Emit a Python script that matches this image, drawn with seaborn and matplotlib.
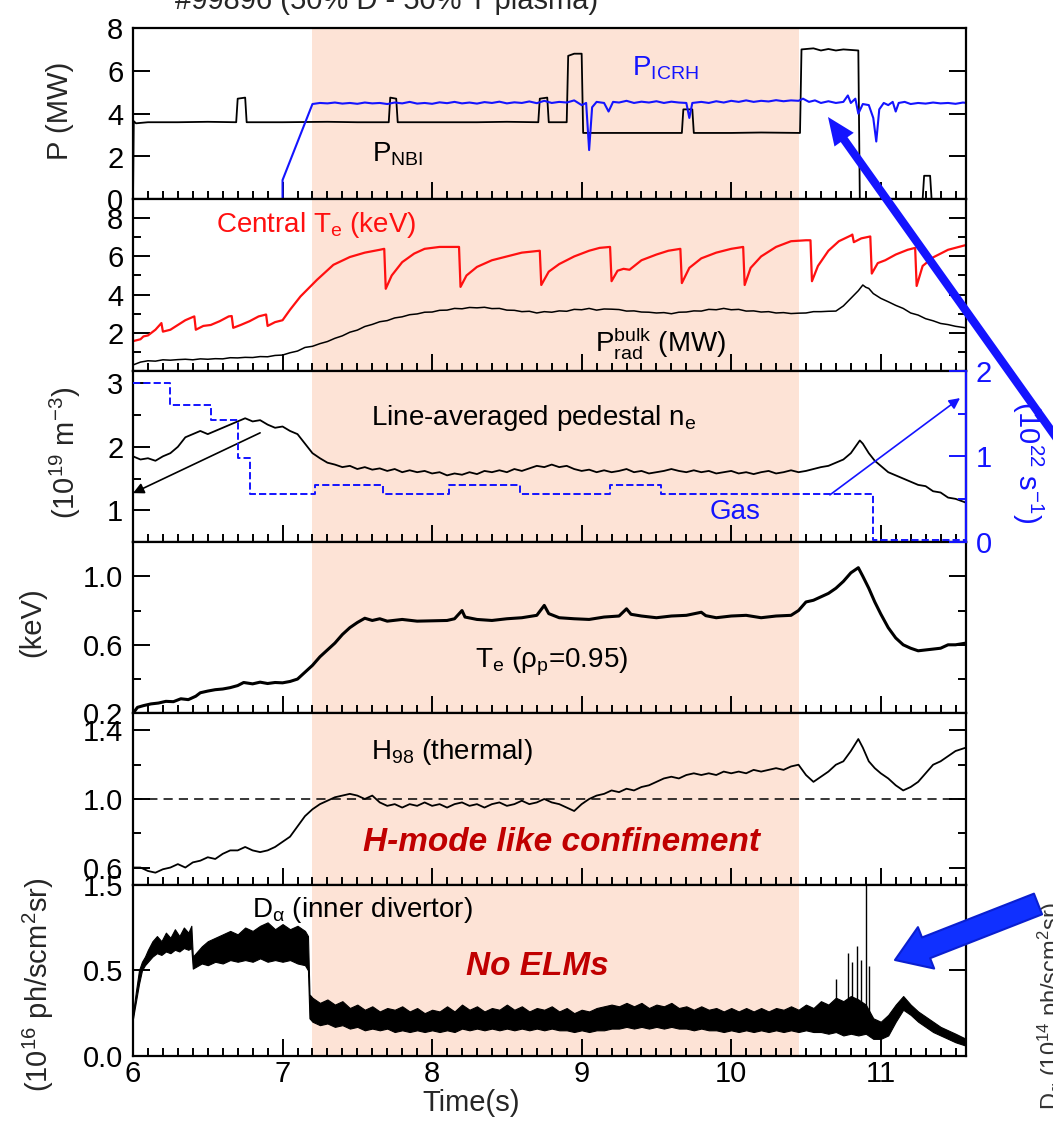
import numpy as np
import matplotlib
matplotlib.use("Agg")
import matplotlib.pyplot as plt
import seaborn as sns
from matplotlib.patches import FancyArrowPatch, ArrowStyle
from matplotlib.ticker import MultipleLocator, FixedLocator, FormatStrFormatter

# ---------------- data (time in s) ----------------
# Panel 1: heating powers (MW)
nbi_t = [6.0, 6.005, 6.02, 6.1, 6.3, 6.5, 6.69, 6.70, 6.75, 6.76, 7.0, 7.3, 7.5, 7.71, 7.72, 7.76,
         7.77, 8.0, 8.3, 8.5, 8.71, 8.72, 8.77, 8.78, 8.90, 8.91, 8.95, 9.00, 9.01, 9.3, 9.5, 9.67,
         9.68, 9.74, 9.75, 10.0, 10.2, 10.46, 10.47, 10.55, 10.6, 10.65, 10.7, 10.75, 10.85, 10.86,
         11.28, 11.29, 11.33, 11.34, 11.57]
nbi_p = [0.0, 3.65, 3.55, 3.6, 3.6, 3.62, 3.6, 4.7, 4.75, 3.6, 3.6, 3.62, 3.6, 3.6, 4.75, 4.7,
         3.6, 3.6, 3.6, 3.62, 3.6, 4.7, 4.75, 3.6, 3.6, 6.7, 6.8, 6.8, 3.1, 3.1, 3.1, 3.1,
         4.2, 4.2, 3.1, 3.1, 3.12, 3.1, 7.0, 7.05, 6.95, 7.02, 6.95, 7.0, 6.95, 0.0,
         0.0, 1.1, 1.1, 0.0, 0.0]

icrh_t = [7.00, 7.00, 7.20, 7.25, 7.30, 7.35, 7.40, 7.45, 7.50, 7.55, 7.60, 7.65, 7.70, 7.75, 7.80,
          7.85, 7.90, 7.95, 8.00, 8.05, 8.10, 8.15, 8.20, 8.25, 8.30, 8.35, 8.40, 8.45, 8.50, 8.55,
          8.60, 8.65, 8.70, 8.75, 8.80, 8.85, 8.90, 8.95, 9.00, 9.03, 9.05, 9.07, 9.10, 9.15, 9.18,
          9.21, 9.25, 9.30, 9.35, 9.40, 9.45, 9.50, 9.55, 9.60, 9.65, 9.70, 9.72, 9.74, 9.80, 9.85,
          9.90, 9.95, 10.00, 10.05, 10.10, 10.15, 10.20, 10.25, 10.30, 10.35, 10.40, 10.45, 10.48,
          10.52, 10.56, 10.60, 10.65, 10.70, 10.75, 10.78, 10.80, 10.83, 10.85, 10.88, 10.92, 10.95,
          10.97, 10.99, 11.02, 11.05, 11.08, 11.10, 11.12, 11.16, 11.20, 11.25, 11.30, 11.35, 11.40,
          11.45, 11.50, 11.55, 11.57]
icrh_p = [0.0, 0.9, 4.45, 4.5, 4.48, 4.52, 4.47, 4.5, 4.46, 4.52, 4.48, 4.5, 4.45, 4.52, 4.48,
          4.55, 4.47, 4.5, 4.46, 4.53, 4.49, 4.55, 4.48, 4.52, 4.47, 4.54, 4.5, 4.56, 4.48, 4.53,
          4.5, 4.57, 4.49, 4.6, 4.5, 4.55, 4.52, 4.62, 4.4, 4.5, 2.3, 4.3, 4.55, 4.5, 4.1,
          4.55, 4.52, 4.6, 4.5, 4.56, 4.52, 4.58, 4.5, 4.56, 4.52, 4.5, 3.8, 4.5, 4.55, 4.5,
          4.58, 4.52, 4.6, 4.55, 4.62, 4.55, 4.6, 4.57, 4.63, 4.58, 4.62, 4.6, 4.7,
          4.55, 4.62, 4.5, 4.58, 4.5, 4.55, 4.85, 4.5, 4.7, 4.0, 4.45, 4.4, 3.8,
          2.7, 4.2, 4.5, 4.4, 4.55, 4.1, 4.5, 4.55, 4.45, 4.5, 4.47, 4.52, 4.48,
          4.5, 4.46, 4.52, 4.5]

# Panel 2: central Te (keV) and bulk radiated power (MW)
te0_t = [6.00, 6.05, 6.07, 6.10, 6.15, 6.19, 6.20, 6.25, 6.30, 6.35, 6.40, 6.41, 6.42, 6.47, 6.52,
         6.58, 6.64, 6.66, 6.67, 6.72, 6.78, 6.84, 6.89, 6.90, 6.95, 7.00, 7.05, 7.12, 7.23, 7.34,
         7.45, 7.55, 7.65, 7.68, 7.69, 7.73, 7.80, 7.88, 7.95, 8.05, 8.18, 8.19, 8.23, 8.30, 8.40,
         8.50, 8.60, 8.72, 8.73, 8.78, 8.85, 8.95, 9.05, 9.12, 9.19, 9.20, 9.24, 9.28, 9.32, 9.40,
         9.50, 9.58, 9.66, 9.67, 9.72, 9.80, 9.90, 10.00, 10.08, 10.09, 10.13, 10.20, 10.30, 10.40,
         10.50, 10.53, 10.54, 10.58, 10.65, 10.72, 10.80, 10.81, 10.82, 10.87, 10.93, 10.94, 10.98,
         11.03, 11.10, 11.18, 11.23, 11.24, 11.28, 11.35, 11.45, 11.57]
te0_v = [1.55, 1.65, 1.8, 1.85, 2.15, 2.5, 2.05, 2.15, 2.4, 2.65, 2.82, 2.85, 2.15, 2.35, 2.4,
         2.6, 2.85, 2.87, 2.25, 2.4, 2.6, 2.85, 2.95, 2.35, 2.55, 2.65, 3.2, 3.9, 4.77, 5.56,
         5.97, 6.2, 6.35, 6.4, 4.3, 5.0, 5.7, 6.15, 6.4, 6.5, 6.5, 4.4, 5.0, 5.45, 5.8,
         6.0, 6.2, 6.3, 4.5, 5.2, 5.6, 6.0, 6.3, 6.45, 6.5, 4.7, 5.25, 5.35, 5.3, 5.8,
         6.1, 6.3, 6.4, 4.6, 5.4, 5.9, 6.2, 6.4, 6.5, 4.5, 5.4, 6.0, 6.5, 6.8,
         6.85, 6.85, 4.7, 5.5, 6.3, 6.8, 7.1, 7.15, 6.75, 6.95, 7.05, 5.1, 5.65,
         5.8, 6.1, 6.35, 6.45, 4.45, 5.5, 5.95, 6.35, 6.6]

prad_t = [6.00, 6.05, 6.10, 6.15, 6.20, 6.25, 6.30, 6.35, 6.40, 6.45, 6.50, 6.55, 6.60, 6.65, 6.70,
          6.75, 6.80, 6.85, 6.90, 6.95, 7.00, 7.05, 7.10, 7.15, 7.20, 7.25, 7.30, 7.35, 7.40, 7.45,
          7.50, 7.55, 7.60, 7.65, 7.70, 7.75, 7.80, 7.85, 7.90, 7.95, 8.00, 8.05, 8.10, 8.15, 8.20,
          8.25, 8.30, 8.35, 8.40, 8.45, 8.50, 8.55, 8.60, 8.65, 8.70, 8.75, 8.80, 8.85, 8.90, 8.95,
          9.00, 9.05, 9.10, 9.15, 9.20, 9.25, 9.30, 9.35, 9.40, 9.45, 9.50, 9.55, 9.60, 9.65, 9.70,
          9.75, 9.80, 9.85, 9.90, 9.95, 10.00, 10.05, 10.10, 10.15, 10.20, 10.25, 10.30, 10.35,
          10.40, 10.45, 10.50, 10.55, 10.60, 10.65, 10.70, 10.75, 10.80, 10.85, 10.88, 10.90, 10.92,
          10.95, 11.00, 11.05, 11.10, 11.15, 11.20, 11.25, 11.30, 11.35, 11.40, 11.45, 11.50, 11.57]
prad_v = [0.3, 0.45, 0.52, 0.5, 0.57, 0.55, 0.58, 0.6, 0.57, 0.62, 0.6, 0.63, 0.62, 0.68, 0.67,
          0.7, 0.69, 0.74, 0.73, 0.8, 0.82, 0.94, 1.03, 1.22, 1.28, 1.42, 1.53, 1.7, 1.83, 2.02,
          2.13, 2.32, 2.43, 2.57, 2.63, 2.77, 2.83, 2.94, 2.98, 3.07, 3.08, 3.17, 3.18, 3.27, 3.25,
          3.32, 3.3, 3.33, 3.26, 3.27, 3.18, 3.17, 3.1, 3.12, 3.03, 3.1, 3.07, 3.14, 3.12, 3.22,
          3.2, 3.27, 3.18, 3.24, 3.23, 3.21, 3.13, 3.14, 3.08, 3.07, 3.03, 3.05, 2.99, 3.07, 3.08,
          3.14, 3.13, 3.22, 3.2, 3.27, 3.2, 3.22, 3.13, 3.14, 3.08, 3.1, 3.03, 3.05,
          3.0, 3.02, 3.03, 3.1, 3.1, 3.12, 3.13, 3.4, 3.8, 4.2, 4.5, 4.38, 4.32,
          4.05, 3.8, 3.62, 3.43, 3.27, 3.03, 2.92, 2.73, 2.62, 2.48, 2.42, 2.33, 2.25]

# Panel 3: line-averaged pedestal density (1e19 m^-3) and gas rate (1e22 s^-1)
ne_t = [6.00, 6.05, 6.10, 6.15, 6.20, 6.25, 6.30, 6.35, 6.40, 6.45, 6.50, 6.55, 6.60, 6.65, 6.70,
        6.75, 6.80, 6.85, 6.90, 6.95, 7.00, 7.05, 7.10, 7.15, 7.20, 7.25, 7.30, 7.35, 7.40, 7.45,
        7.50, 7.55, 7.60, 7.65, 7.70, 7.75, 7.80, 7.85, 7.90, 7.95, 8.00, 8.05, 8.10, 8.15, 8.20,
        8.25, 8.30, 8.35, 8.40, 8.45, 8.50, 8.55, 8.60, 8.65, 8.70, 8.75, 8.80, 8.85, 8.90, 8.95,
        9.00, 9.05, 9.10, 9.15, 9.20, 9.25, 9.30, 9.35, 9.40, 9.45, 9.50, 9.55, 9.60, 9.65, 9.70,
        9.75, 9.80, 9.85, 9.90, 9.95, 10.00, 10.05, 10.10, 10.15, 10.20, 10.25, 10.30, 10.35,
        10.40, 10.45, 10.50, 10.55, 10.60, 10.65, 10.70, 10.75, 10.80, 10.83, 10.86, 10.88, 10.92,
        10.96, 11.00, 11.05, 11.10, 11.15, 11.20, 11.25, 11.30, 11.35, 11.40, 11.45, 11.50, 11.57]
ne_v = [1.85, 1.8, 1.82, 1.78, 1.85, 1.9, 2.0, 2.15, 2.2, 2.25, 2.2, 2.25, 2.3, 2.35, 2.4,
        2.45, 2.4, 2.42, 2.35, 2.3, 2.32, 2.25, 2.2, 2.05, 1.9, 1.82, 1.75, 1.72, 1.68, 1.7,
        1.65, 1.68, 1.64, 1.66, 1.62, 1.65, 1.6, 1.63, 1.6, 1.62, 1.58, 1.6, 1.55, 1.58, 1.56,
        1.6, 1.57, 1.62, 1.6, 1.63, 1.6, 1.65, 1.62, 1.66, 1.7, 1.68, 1.72, 1.68, 1.7, 1.65,
        1.62, 1.64, 1.6, 1.63, 1.6, 1.62, 1.65, 1.6, 1.62, 1.58, 1.6, 1.62, 1.65, 1.62, 1.6,
        1.63, 1.6, 1.62, 1.58, 1.6, 1.62, 1.58, 1.6, 1.57, 1.6, 1.62, 1.58, 1.6,
        1.63, 1.6, 1.62, 1.65, 1.68, 1.7, 1.75, 1.8, 1.9, 2.0, 2.1, 2.05, 1.9,
        1.78, 1.7, 1.6, 1.55, 1.5, 1.45, 1.4, 1.38, 1.3, 1.28, 1.2, 1.18, 1.12]

gas_t = [6.00, 6.25, 6.25, 6.52, 6.52, 6.70, 6.70, 6.78, 6.78, 7.22, 7.22, 7.67, 7.67, 8.11, 8.11,
         8.59, 8.59, 9.19, 9.19, 9.53, 9.53, 10.95, 10.95, 11.57]
gas_v = [1.86, 1.86, 1.6, 1.6, 1.42, 1.42, 0.98, 0.98, 0.56, 0.56, 0.67, 0.67, 0.56, 0.56, 0.66,
         0.66, 0.56, 0.56, 0.66, 0.66, 0.56, 0.56, 0.02, 0.02]

# Panel 4: edge electron temperature at rho_p = 0.95 (keV)
tped_t = [6.00, 6.03, 6.07, 6.12, 6.17, 6.22, 6.27, 6.32, 6.37, 6.42, 6.45, 6.50, 6.55, 6.60, 6.65,
          6.70, 6.74, 6.80, 6.85, 6.90, 6.95, 7.00, 7.05, 7.10, 7.15, 7.20, 7.25, 7.30, 7.35, 7.40,
          7.45, 7.50, 7.55, 7.60, 7.65, 7.70, 7.80, 7.90, 8.00, 8.10, 8.15, 8.20, 8.22, 8.30, 8.40,
          8.50, 8.60, 8.70, 8.75, 8.78, 8.85, 8.95, 9.05, 9.15, 9.25, 9.30, 9.33, 9.40, 9.50, 9.60,
          9.70, 9.80, 9.83, 9.90, 10.00, 10.10, 10.20, 10.30, 10.40, 10.45, 10.50, 10.55, 10.60,
          10.65, 10.70, 10.75, 10.80, 10.85, 10.88, 10.92, 10.96, 11.00, 11.05, 11.10, 11.15, 11.20,
          11.25, 11.30, 11.35, 11.40, 11.45, 11.50, 11.57]
tped_v = [0.2, 0.235, 0.245, 0.255, 0.26, 0.27, 0.268, 0.285, 0.28, 0.3, 0.32, 0.33, 0.338, 0.342, 0.35,
          0.362, 0.38, 0.372, 0.382, 0.374, 0.38, 0.378, 0.386, 0.4, 0.44, 0.48, 0.53, 0.57, 0.61, 0.66,
          0.7, 0.73, 0.755, 0.742, 0.752, 0.738, 0.748, 0.738, 0.74, 0.742, 0.752, 0.8, 0.762, 0.748, 0.742,
          0.752, 0.758, 0.772, 0.83, 0.782, 0.758, 0.752, 0.748, 0.762, 0.768, 0.81, 0.778, 0.768, 0.758, 0.768,
          0.772, 0.79, 0.77, 0.758, 0.768, 0.772, 0.758, 0.768, 0.772, 0.8, 0.85, 0.86, 0.88,
          0.9, 0.93, 0.97, 1.02, 1.05, 1.0, 0.93, 0.85, 0.78, 0.7, 0.64, 0.6, 0.58,
          0.565, 0.57, 0.575, 0.58, 0.6, 0.6, 0.61]

# Panel 5: H98 confinement factor
h98_t = [6.00, 6.05, 6.10, 6.15, 6.20, 6.25, 6.30, 6.35, 6.40, 6.45, 6.50, 6.55, 6.60, 6.65, 6.70,
         6.75, 6.80, 6.85, 6.90, 6.95, 7.00, 7.05, 7.10, 7.15, 7.20, 7.25, 7.30, 7.35, 7.40, 7.45,
         7.50, 7.55, 7.60, 7.65, 7.70, 7.75, 7.80, 7.85, 7.90, 7.95, 8.00, 8.05, 8.10, 8.15, 8.20,
         8.25, 8.30, 8.35, 8.40, 8.45, 8.50, 8.55, 8.60, 8.65, 8.70, 8.75, 8.80, 8.85, 8.90, 8.95,
         9.00, 9.05, 9.10, 9.15, 9.20, 9.25, 9.30, 9.35, 9.40, 9.45, 9.50, 9.55, 9.60, 9.65, 9.70,
         9.75, 9.80, 9.85, 9.90, 9.95, 10.00, 10.05, 10.10, 10.15, 10.20, 10.25, 10.30, 10.35,
         10.40, 10.45, 10.50, 10.55, 10.60, 10.65, 10.70, 10.75, 10.80, 10.85, 10.88, 10.92, 10.96,
         11.00, 11.05, 11.10, 11.15, 11.20, 11.25, 11.30, 11.35, 11.40, 11.45, 11.50, 11.57]
h98_v = [0.6, 0.6, 0.58, 0.57, 0.59, 0.6, 0.62, 0.6, 0.63, 0.64, 0.66, 0.65, 0.68, 0.7, 0.7,
         0.72, 0.7, 0.69, 0.7, 0.72, 0.75, 0.78, 0.84, 0.9, 0.94, 0.97, 0.99, 1.01, 1.02, 1.03,
         1.02, 1.0, 1.02, 0.98, 0.96, 0.97, 0.95, 0.97, 0.96, 0.98, 0.96, 0.97, 0.95, 0.97, 0.98,
         0.96, 0.97, 0.95, 0.97, 0.98, 0.96, 0.97, 0.99, 0.97, 0.98, 1.0, 0.98, 0.97, 0.95, 0.93,
         0.97, 1.0, 1.02, 1.03, 1.05, 1.04, 1.06, 1.05, 1.07, 1.08, 1.1, 1.12, 1.13, 1.12, 1.14,
         1.15, 1.14, 1.15, 1.14, 1.16, 1.15, 1.16, 1.15, 1.17, 1.16, 1.17, 1.18, 1.17,
         1.19, 1.2, 1.14, 1.1, 1.13, 1.16, 1.2, 1.22, 1.28, 1.35, 1.3, 1.22, 1.18,
         1.15, 1.12, 1.08, 1.05, 1.07, 1.1, 1.15, 1.2, 1.22, 1.25, 1.28, 1.3]

# Panel 6: inner divertor D-alpha (1e16 ph/s/cm2/sr): lower / upper envelope of the signal
da_t = [6.00, 6.02, 6.04, 6.06, 6.08, 6.10, 6.13, 6.16, 6.19, 6.22, 6.25, 6.28, 6.31, 6.34, 6.37,
        6.39, 6.40, 6.43, 6.46, 6.50, 6.55, 6.60, 6.65, 6.70, 6.75, 6.80, 6.85, 6.90, 6.95, 7.00,
        7.05, 7.10, 7.15, 7.17, 7.18, 7.20, 7.25, 7.30, 7.35, 7.40, 7.45, 7.50, 7.55, 7.60, 7.65,
        7.70, 7.75, 7.80, 7.85, 7.90, 7.95, 8.00, 8.05, 8.10, 8.15, 8.20, 8.25, 8.30, 8.35, 8.40,
        8.45, 8.50, 8.55, 8.60, 8.65, 8.70, 8.75, 8.80, 8.85, 8.90, 8.95, 9.00, 9.05, 9.10, 9.15,
        9.20, 9.25, 9.30, 9.35, 9.40, 9.45, 9.50, 9.55, 9.60, 9.65, 9.70, 9.75, 9.80, 9.85, 9.90,
        9.95, 10.00, 10.05, 10.10, 10.15, 10.20, 10.25, 10.30, 10.35, 10.40, 10.45, 10.50, 10.55,
        10.60, 10.65, 10.70, 10.75, 10.80, 10.85, 10.90, 10.95, 11.00, 11.05, 11.10, 11.15, 11.20,
        11.25, 11.30, 11.35, 11.40, 11.45, 11.50, 11.57]
da_lo = [0.22, 0.32, 0.42, 0.5, 0.56, 0.6, 0.66, 0.7, 0.68, 0.72, 0.7, 0.74, 0.72, 0.76, 0.74,
         0.76, 0.52, 0.55, 0.58, 0.56, 0.6, 0.58, 0.62, 0.6, 0.62, 0.6, 0.64, 0.6, 0.62, 0.6,
         0.62, 0.58, 0.56, 0.5, 0.22, 0.2, 0.18, 0.19, 0.17, 0.18, 0.16, 0.17, 0.15, 0.16, 0.15,
         0.16, 0.14, 0.15, 0.14, 0.15, 0.14, 0.15, 0.14, 0.15, 0.14, 0.16, 0.15, 0.16, 0.15, 0.16,
         0.15, 0.16, 0.15, 0.16, 0.15, 0.16, 0.15, 0.16, 0.15, 0.15, 0.14, 0.15, 0.14, 0.15, 0.15,
         0.16, 0.16, 0.17, 0.16, 0.17, 0.16, 0.17, 0.16, 0.17, 0.16, 0.16, 0.15, 0.16, 0.15, 0.15,
         0.14, 0.15, 0.14, 0.15, 0.14, 0.15, 0.14, 0.15, 0.14, 0.15, 0.14, 0.15, 0.14,
         0.14, 0.13, 0.14, 0.12, 0.13, 0.12, 0.13, 0.1, 0.1, 0.12, 0.2, 0.27, 0.24,
         0.2, 0.17, 0.14, 0.12, 0.1, 0.08, 0.06]
da_hi = [0.25, 0.38, 0.5, 0.6, 0.66, 0.74, 0.84, 0.9, 0.84, 0.94, 0.88, 0.98, 0.9, 1.0, 0.94,
         1.02, 0.66, 0.72, 0.78, 0.84, 0.88, 0.92, 0.96, 0.92, 1.0, 0.96, 1.02, 1.06, 0.98, 1.04,
         0.98, 1.02, 0.96, 0.9, 0.36, 0.34, 0.31, 0.33, 0.3, 0.32, 0.28, 0.3, 0.27, 0.29, 0.26,
         0.28, 0.27, 0.29, 0.26, 0.28, 0.25, 0.27, 0.26, 0.29, 0.26, 0.3, 0.27, 0.29, 0.26, 0.28,
         0.27, 0.3, 0.27, 0.29, 0.26, 0.28, 0.27, 0.29, 0.26, 0.28, 0.25, 0.27, 0.26, 0.28, 0.29,
         0.3, 0.29, 0.31, 0.29, 0.31, 0.28, 0.3, 0.29, 0.31, 0.28, 0.29, 0.27, 0.29, 0.27, 0.28,
         0.26, 0.28, 0.26, 0.28, 0.26, 0.28, 0.26, 0.28, 0.27, 0.29, 0.27, 0.3, 0.28,
         0.32, 0.3, 0.34, 0.32, 0.35, 0.33, 0.3, 0.22, 0.2, 0.24, 0.3, 0.35, 0.3,
         0.26, 0.23, 0.2, 0.17, 0.15, 0.13, 0.1]
# ELM-like spikes near the end of the phase: time, peak value
spike_t = [10.70, 10.78, 10.81, 10.84, 10.87, 10.90, 10.92]
spike_v = [0.45, 0.7, 0.6, 0.78, 0.62, 1.5, 0.55]

# Phase without ELMs (shaded)
phase_start, phase_end = 7.2, 10.45

# ---------------- style ----------------
sns.set_theme(style="ticks")
plt.rcParams.update({
    "font.family": ["Liberation Sans", "DejaVu Sans"],
    "mathtext.fontset": "custom",
    "mathtext.rm": "Liberation Sans",
    "mathtext.it": "Liberation Sans:italic",
    "mathtext.bf": "Liberation Sans:bold",
    "axes.linewidth": 1.6,
    "axes.edgecolor": "black",
    "xtick.color": "black",
    "ytick.color": "black",
})

BLUE = "#1414ff"
RED = "#ff1010"
DARKRED = "#c00000"
SHADE = "#fde3d6"
TICK_FS = 21
TXT_FS = 20

fig = plt.figure(figsize=(10.53, 11.30), dpi=100)
gs = fig.add_gridspec(6, 1, left=133 / 1053, right=966 / 1053,
                      top=1 - 28 / 1130, bottom=1 - 1056 / 1130, hspace=0)
axes = []
for i in range(6):
    ax = fig.add_subplot(gs[i], sharex=axes[0] if axes else None)
    axes.append(ax)
ax1, ax2, ax3, ax4, ax5, ax6 = axes


def style_axis(ax, right=True):
    ax.set_facecolor("white")
    ax.axvspan(phase_start, phase_end, color=SHADE, lw=0, zorder=0)
    ax.tick_params(axis="both", which="both", direction="in", top=False, right=right,
                   labelsize=TICK_FS, width=1.4, pad=7)
    ax.tick_params(axis="both", which="major", length=12)
    ax.tick_params(axis="both", which="minor", length=6)
    ax.tick_params(axis="x", pad=3)
    ax.xaxis.set_major_locator(MultipleLocator(1))
    ax.xaxis.set_minor_locator(MultipleLocator(0.1))
    ax.set_xlim(6.0, 11.57)
    ax.set_xlabel("")
    ax.set_ylabel("")
    for s in ax.spines.values():
        s.set_visible(True)
        s.set_linewidth(1.6)


def trace(ax, t, v, color, lw, **kw):
    sns.lineplot(x=t, y=v, ax=ax, color=color, lw=lw, estimator=None, sort=False,
                 legend=False, **kw)


# Panel 1: powers
trace(ax1, nbi_t, nbi_p, "black", 1.3)
trace(ax1, icrh_t, icrh_p, BLUE, 1.5)
style_axis(ax1)
ax1.set_ylim(0, 8)
ax1.yaxis.set_major_locator(FixedLocator([0, 2, 4, 6, 8]))
ax1.text(0.639, 0.767, r"P$_{\rm ICRH}$", color=BLUE, fontsize=TXT_FS, transform=ax1.transAxes,
         ha="center", va="center")
ax1.text(0.318, 0.262, r"P$_{\rm NBI}$", color="black", fontsize=TXT_FS, transform=ax1.transAxes,
         ha="center", va="center")

# Panel 2: central Te and radiated power
trace(ax2, te0_t, te0_v, RED, 1.6)
trace(ax2, prad_t, prad_v, "black", 1.1)
style_axis(ax2)
ax2.set_ylim(0, 9)
ax2.yaxis.set_major_locator(FixedLocator([2, 4, 6, 8]))
ax2.yaxis.set_minor_locator(FixedLocator([1, 3, 5, 7]))
ax2.text(0.22, 0.848, r"Central T$_{\rm e}$ (keV)", color=RED, fontsize=TXT_FS,
         transform=ax2.transAxes, ha="center", va="center")
ax2.text(0.633, 0.16, r"P$_{\rm rad}^{\rm bulk}$ (MW)", color="black", fontsize=TXT_FS,
         transform=ax2.transAxes, ha="center", va="center")

# Panel 3: density and gas (right axis)
style_axis(ax3, right=False)
trace(ax3, ne_t, ne_v, "black", 1.3)
ax3.set_ylim(0.5, 3.2)
ax3.yaxis.set_major_locator(FixedLocator([1, 2, 3]))
ax3.yaxis.set_minor_locator(FixedLocator([1.5, 2.5]))
axr = ax3.twinx()
trace(axr, gas_t, gas_v, BLUE, 1.4, linestyle="--")
axr.set_ylim(0, 2)
axr.set_ylabel("")
axr.yaxis.set_major_locator(FixedLocator([0, 1, 2]))
axr.yaxis.set_minor_locator(FixedLocator([0.5, 1.5]))
axr.tick_params(axis="y", which="both", direction="in", colors=BLUE, labelcolor=BLUE,
                labelsize=TICK_FS, width=1.4, pad=7)
axr.tick_params(axis="y", which="major", length=12)
axr.tick_params(axis="y", which="minor", length=6)
axr.spines["right"].set_color(BLUE)
axr.spines["right"].set_linewidth(1.6)
for side in ("left", "top", "bottom"):
    axr.spines[side].set_visible(False)
ax3.text(0.481, 0.725, r"Line-averaged pedestal n$_{\rm e}$", color="black", fontsize=TXT_FS,
         transform=ax3.transAxes, ha="center", va="center")
axr.text(0.723, 0.175, "Gas", color=BLUE, fontsize=TXT_FS, transform=axr.transAxes,
         ha="center", va="center")
ax3.annotate("", xy=(6.0, 1.27), xytext=(6.85, 2.22),
             arrowprops=dict(arrowstyle="-|>", color="black", lw=1.2, mutation_scale=16,
                             shrinkA=0, shrinkB=0), annotation_clip=False)
axr.annotate("", xy=(11.53, 1.68), xytext=(10.66, 0.55),
             arrowprops=dict(arrowstyle="-|>", color=BLUE, lw=1.2, mutation_scale=16,
                             shrinkA=0, shrinkB=0), annotation_clip=False)

# Panel 4: edge Te
trace(ax4, tped_t, tped_v, "black", 2.2)
style_axis(ax4)
ax4.set_ylim(0.2, 1.2)
ax4.yaxis.set_major_locator(FixedLocator([0.2, 0.6, 1.0]))
ax4.yaxis.set_minor_locator(FixedLocator([0.4, 0.8]))
ax4.yaxis.set_major_formatter(FormatStrFormatter("%.1f"))
ax4.text(0.502, 0.298, r"T$_{\rm e}$ (ρ$_{\rm p}$=0.95)", color="black", fontsize=TXT_FS,
         transform=ax4.transAxes, ha="center", va="center")

# Panel 5: H98
trace(ax5, h98_t, h98_v, "black", 1.3)
ax5.axhline(1.0, color="black", lw=1.1, ls=(0, (6, 4)))
style_axis(ax5)
ax5.set_ylim(0.5, 1.5)
ax5.yaxis.set_major_locator(FixedLocator([0.6, 1.0, 1.4]))
ax5.yaxis.set_minor_locator(FixedLocator([0.8, 1.2]))
ax5.yaxis.set_major_formatter(FormatStrFormatter("%.1f"))
ax5.text(0.383, 0.773, r"H$_{\rm 98}$ (thermal)", color="black", fontsize=TXT_FS,
         transform=ax5.transAxes, ha="center", va="center")
ax5.text(0.514, 0.244, "H-mode like confinement", color=DARKRED, fontsize=24,
         fontweight="bold", fontstyle="italic", transform=ax5.transAxes, ha="center", va="center")


# Panel 6: D-alpha; the upper part of the scale is compressed
def _fwd(v):
    v = np.asarray(v, dtype=float)
    return np.where(v <= 0.5, v, 0.5 + (v - 0.5) / 2.0)


def _inv(u):
    u = np.asarray(u, dtype=float)
    return np.where(u <= 0.5, u, 0.5 + (u - 0.5) * 2.0)


ax6.set_yscale("function", functions=(_fwd, _inv))
ax6.fill_between(da_t, da_lo, da_hi, color="black", lw=0.8, zorder=3)
ax6.vlines(spike_t, [0.2] * len(spike_t), spike_v, color="black", lw=1.0, zorder=3)
style_axis(ax6)
ax6.set_ylim(0, 1.5)
ax6.yaxis.set_major_locator(FixedLocator([0.0, 0.5, 1.5]))
ax6.yaxis.set_minor_locator(FixedLocator([]))
ax6.yaxis.set_major_formatter(FormatStrFormatter("%.1f"))
ax6.text(0.275, 0.854, r"D$_{\rm α}$ (inner divertor)", color="black", fontsize=TXT_FS,
         transform=ax6.transAxes, ha="center", va="center")
ax6.text(0.485, 0.52, "No ELMs", color=DARKRED, fontsize=24, fontweight="bold",
         fontstyle="italic", transform=ax6.transAxes, ha="center", va="center")

for ax in axes[:-1]:
    ax.tick_params(axis="x", labelbottom=False)
ax6.tick_params(axis="x", labelbottom=True)


# Axis titles
def fy(py):
    return 1 - py / 1130


fig.text(60 / 1053, fy(111), "P (MW)", rotation=90, fontsize=TICK_FS, ha="center", va="center")
fig.text(65 / 1053, fy(453), r"(10$^{19}$ m$^{-3}$)", rotation=90, fontsize=TICK_FS,
         ha="center", va="center")
fig.text(32 / 1053, fy(622), "(keV)", rotation=90, fontsize=TICK_FS, ha="center", va="center")
fig.text(38 / 1053, fy(985), r"(10$^{16}$ ph/scm$^{2}$sr)", rotation=90, fontsize=TICK_FS,
         ha="center", va="center")
fig.text(1028 / 1053, fy(462), r"(10$^{22}$ s$^{-1}$)", rotation=-90, fontsize=TICK_FS,
         color=BLUE, ha="center", va="center")
fig.text(471 / 1053, fy(1103), "Time(s)", fontsize=TICK_FS, ha="center", va="center")

# Shot title (runs off the top edge) and the neighbouring axis title (runs off the right edge)
fig.text(387 / 1053, fy(9), "#99896 (50% D - 50% T plasma)", fontsize=TICK_FS,
         ha="center", va="baseline")
fig.text(1036 / 1053, fy(1110), r"D$_{\rm α}$ (10$^{14}$ ph/scm$^{2}$sr)", rotation=90,
         fontsize=17, color="#333333", ha="left", va="bottom")

# Pointer arrows
tr = fig.transFigure
big = FancyArrowPatch((1070 / 1053, fy(457)), (828 / 1053, fy(117)), transform=tr,
                      arrowstyle=ArrowStyle.Simple(head_length=20, head_width=17, tail_width=6),
                      mutation_scale=1, color=BLUE, lw=0, shrinkA=0, shrinkB=0, zorder=10)
fig.add_artist(big)
block = FancyArrowPatch((1038 / 1053, fy(904)), (895 / 1053, fy(960)), transform=tr,
                        arrowstyle=ArrowStyle.Simple(head_length=24, head_width=32, tail_width=16),
                        mutation_scale=1, facecolor="#1030ff", edgecolor="#0a1fd0", lw=1.5,
                        shrinkA=0, shrinkB=0, zorder=10)
fig.add_artist(block)

fig.savefig("out.png", dpi=100)
